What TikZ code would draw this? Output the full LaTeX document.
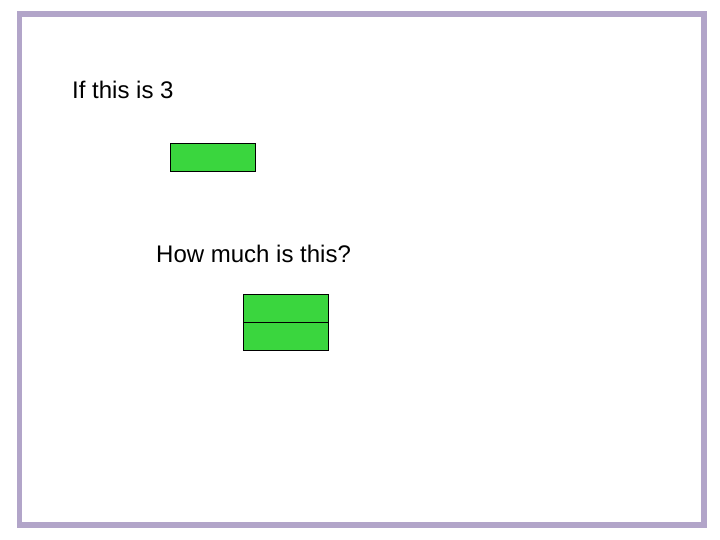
\documentclass[tikz,border=0pt]{standalone}
\usepackage{fontspec}
\setmainfont{Liberation Sans}
\usetikzlibrary{positioning}
\definecolor{mygreen}{RGB}{58, 214, 62}
\definecolor{mypurple}{RGB}{178, 165, 201}
\tikzstyle{block}=[draw=black,fill=mygreen,minimum width=85pt,minimum height=28pt,inner sep=0pt,line width=1pt]
\tikzstyle{caption}=[anchor=base west,inner sep=0pt,font=\fontsize{24pt}{28pt}\selectfont]

\begin{document}
\begin{tikzpicture}[x=1pt,y=-1pt]
\useasboundingbox (0,0) rectangle (720,540);
\draw[mypurple,line width=5.5pt] (19.5,14) rectangle (704,525);
\node (Q1) [caption] at (72,99) {If this is 3};
\node (A) [block] at (213,157.8) {};
\node (Q2) [caption] at (156,262) {How much is this?};
\node (B1) [block] at (286,308.3) {};
\node (B2) [block,below=-1pt of B1] {};
\end{tikzpicture}
\end{document}
